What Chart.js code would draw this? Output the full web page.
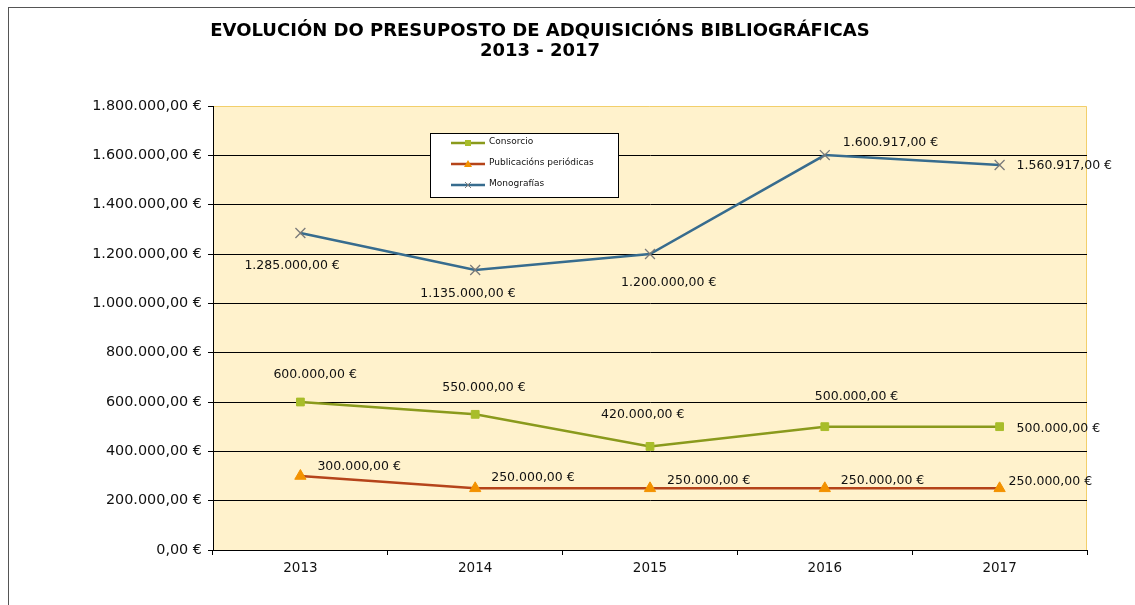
<!DOCTYPE html>
<html>
<head>
<meta charset="utf-8">
<script src="https://cdn.jsdelivr.net/npm/chart.js@4.4.0/dist/chart.umd.min.js"></script>
<style>
html,body{margin:0;padding:0;background:#fff;}
#wrap{width:1135px;height:605px;position:relative;}
</style>
</head>
<body>
<div id="wrap"><canvas id="c" width="1135" height="605"></canvas></div>
<script>
const categories = ['2013', '2014', '2015', '2016', '2017'];
const consorcio = [600000, 550000, 420000, 500000, 500000];
const publicacions = [300000, 250000, 250000, 250000, 250000];
const monografias = [1285000, 1135000, 1200000, 1600917, 1560917];
const seriesNames = ['Consorcio', 'Publicacións periódicas', 'Monografías'];
const titleLines = ['EVOLUCIÓN DO PRESUPOSTO DE ADQUISICIÓNS BIBLIOGRÁFICAS', '2013 - 2017'];
const yMin = 0, yMax = 1800000, yStep = 200000;

// label offsets (style only): [dx from point to label left edge, dy to label middle]
const labelOffsets = [
  [[-27,-27],[-33,-27],[-49,-32],[-10,-30],[17,2]],
  [[17,-9],[16,-11],[17,-8],[16,-8],[9,-7]],
  [[-56,33],[-55,24],[-29,29],[18,-12],[17,1]]
];

function fmtEuro(v){
  const s = v.toFixed(2).split('.');
  const int = s[0].replace(/\B(?=(\d{3})+(?!\d))/g, '.');
  return int + ',' + s[1] + ' €';
}

const FONT = '"DejaVu Sans", Verdana, sans-serif';

const framePlugin = {
  id: 'frame',
  beforeDraw(chart){
    const ctx = chart.ctx, a = chart.chartArea;
    ctx.save();
    ctx.strokeStyle = '#555';
    ctx.lineWidth = 1;
    ctx.strokeRect(8.5, 7.5, 1300, 800);
    ctx.fillStyle = '#FFF2CC';
    ctx.fillRect(a.left, a.top, a.right - a.left, a.bottom - a.top);
    ctx.strokeStyle = '#F2CF6B';
    ctx.beginPath();
    ctx.moveTo(a.left, a.top + 0.5);
    ctx.lineTo(a.right - 0.5, a.top + 0.5);
    ctx.lineTo(a.right - 0.5, a.bottom);
    ctx.stroke();
    // title
    ctx.fillStyle = '#000';
    ctx.font = 'bold 18px ' + FONT;
    ctx.textAlign = 'center';
    ctx.textBaseline = 'middle';
    ctx.fillText(titleLines[0], 540, 31);
    ctx.fillText(titleLines[1], 540, 51);
    ctx.restore();
  },
  afterDatasetsDraw(chart){
    const ctx = chart.ctx;
    ctx.save();
    ctx.font = '12.5px ' + FONT;
    ctx.fillStyle = '#111';
    ctx.textAlign = 'left';
    ctx.textBaseline = 'middle';
    chart.data.datasets.forEach((ds, di) => {
      const meta = chart.getDatasetMeta(di);
      meta.data.forEach((pt, i) => {
        const off = labelOffsets[di][i];
        ctx.fillText(fmtEuro(ds.data[i]), pt.x + off[0], pt.y + off[1]);
      });
    });
    // legend box
    const bx = 430.5, by = 133.5, bw = 188, bh = 64;
    ctx.fillStyle = '#fff';
    ctx.fillRect(bx, by, bw, bh);
    ctx.strokeStyle = '#000';
    ctx.lineWidth = 1;
    ctx.strokeRect(bx, by, bw, bh);
    const rows = [143, 164, 185];
    ctx.font = '9px ' + FONT;
    chart.data.datasets.forEach((ds, di) => {
      const y = rows[di];
      ctx.strokeStyle = ds.borderColor;
      ctx.lineWidth = 2.5;
      ctx.beginPath();
      ctx.moveTo(451, y);
      ctx.lineTo(485, y);
      ctx.stroke();
      const mx = 468;
      ctx.fillStyle = ds.pointBackgroundColor;
      ctx.strokeStyle = ds.pointBorderColor;
      ctx.lineWidth = 1;
      if (di === 0) {
        ctx.fillRect(mx - 3, y - 3, 6, 6);
      } else if (di === 1) {
        ctx.beginPath();
        ctx.moveTo(mx, y - 4); ctx.lineTo(mx + 4, y + 3); ctx.lineTo(mx - 4, y + 3); ctx.closePath();
        ctx.fill();
      } else {
        ctx.beginPath();
        ctx.moveTo(mx - 3, y - 3); ctx.lineTo(mx + 3, y + 3);
        ctx.moveTo(mx + 3, y - 3); ctx.lineTo(mx - 3, y + 3);
        ctx.stroke();
      }
      ctx.fillStyle = '#111';
      ctx.fillText(ds.label, 489, y - 1);
    });
    ctx.restore();
  }
};

new Chart(document.getElementById('c'), {
  type: 'line',
  data: {
    labels: categories,
    datasets: [
      {
        label: seriesNames[0], data: consorcio,
        borderColor: '#8A9A1C', borderWidth: 2.5,
        pointStyle: 'rect', pointRadius: 5.5, pointHoverRadius: 5.5,
        pointBackgroundColor: '#A8BD2A', pointBorderColor: '#A8BD2A', pointBorderWidth: 1,
        tension: 0
      },
      {
        label: seriesNames[1], data: publicacions,
        borderColor: '#B5441A', borderWidth: 2.5,
        pointStyle: 'triangle', pointRadius: 6.5, pointHoverRadius: 6.5,
        pointBackgroundColor: '#F39200', pointBorderColor: '#F39200', pointBorderWidth: 1,
        tension: 0
      },
      {
        label: seriesNames[2], data: monografias,
        borderColor: '#376C8E', borderWidth: 2.5,
        pointStyle: 'crossRot', pointRadius: 7, pointHoverRadius: 7,
        pointBackgroundColor: '#808080', pointBorderColor: '#7A7A7A', pointBorderWidth: 1.3,
        tension: 0
      }
    ]
  },
  options: {
    responsive: false,
    animation: false,
    devicePixelRatio: 1,
    layout: { padding: { left: 0, right: 48, top: 106, bottom: 0 } },
    plugins: { legend: { display: false }, title: { display: false }, tooltip: { enabled: false } },
    scales: {
      x: {
        offset: true,
        grid: { offset: true, drawOnChartArea: false, drawTicks: true, tickLength: 5, color: '#000' },
        border: { display: true, color: '#000', width: 1 },
        ticks: { color: '#111', font: { family: FONT, size: 13.5 }, padding: 5 },
        afterFit(s){ s.height = 55; }
      },
      y: {
        min: yMin, max: yMax,
        ticks: {
          stepSize: yStep, color: '#111', font: { family: FONT, size: 14.4 }, padding: 6,
          callback: v => fmtEuro(v)
        },
        grid: {
          color: ctx => (ctx.tick && ctx.tick.value === yMax) ? 'rgba(0,0,0,0)' : '#000',
          tickColor: '#000', tickLength: 5, lineWidth: 1
        },
        border: { display: true, color: '#000', width: 1 },
        afterFit(s){ s.width = 213; }
      }
    }
  },
  plugins: [framePlugin]
});
</script>
</body>
</html>
